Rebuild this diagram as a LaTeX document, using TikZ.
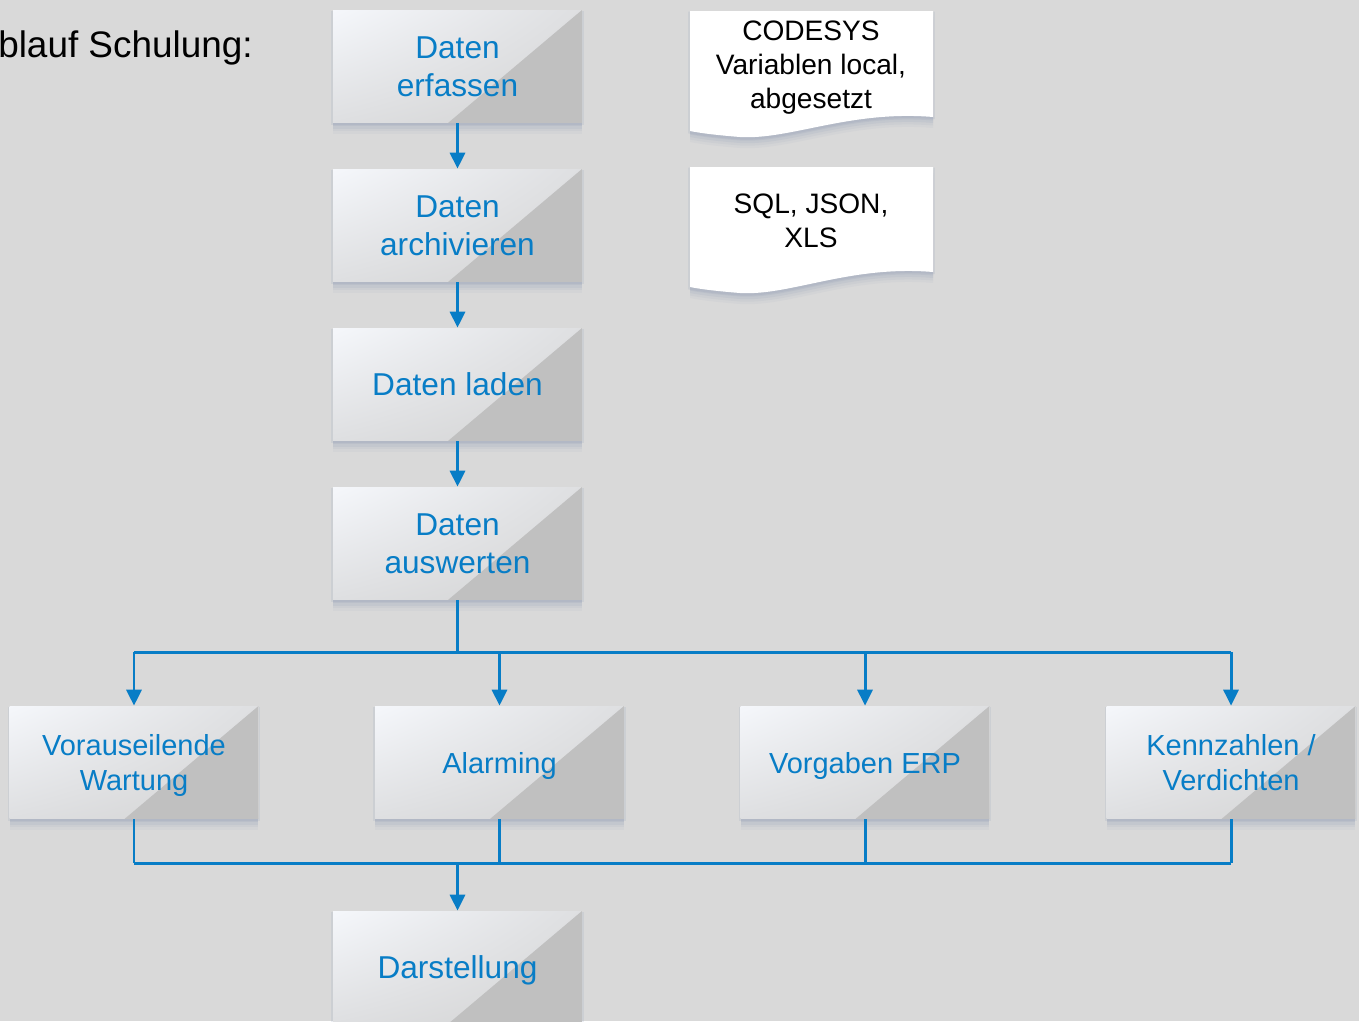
\documentclass[tikz,border=0pt]{standalone}
\usepackage{fontspec}
\setmainfont{Liberation Sans}
\usetikzlibrary{arrows.meta,shadows,shadings}

\definecolor{bgc}{RGB}{217,217,217}
\definecolor{flowblue}{RGB}{8,125,198}
\definecolor{boxhi}{RGB}{245,247,251}
\definecolor{boxmid}{RGB}{222,223,225}
\definecolor{boxlo}{RGB}{212,212,212}
\definecolor{boxtri}{RGB}{192,192,192}
\definecolor{shadowc}{RGB}{135,150,178}

\tikzset{
  softshadow/.style={
    drop shadow={shadow xshift=0mm, shadow yshift=-2.2mm, opacity=.07, fill=shadowc},
    drop shadow={shadow xshift=0mm, shadow yshift=-1.7mm, opacity=.09, fill=shadowc},
    drop shadow={shadow xshift=0mm, shadow yshift=-1.2mm, opacity=.12, fill=shadowc},
    drop shadow={shadow xshift=0mm, shadow yshift=-0.7mm, opacity=.15, fill=shadowc},
    drop shadow={shadow xshift=0mm, shadow yshift=-0.3mm, shadow scale=1.015, opacity=.15, fill=shadowc}},
  stepbox/.style={minimum width=4.98cm, minimum height=2.26cm, inner sep=0pt,
    align=center, text=flowblue, fill=boxmid, text depth=0pt, softshadow,
    path picture={
      \shade[upper left=boxhi, upper right=boxmid, lower left=boxmid, lower right=boxlo]
        (path picture bounding box.south west) rectangle (path picture bounding box.north east);
      \fill[boxtri] (path picture bounding box.north east) -- (path picture bounding box.south east)
        -- ([xshift=-2.68cm]path picture bounding box.south east) -- cycle;
    }},
  bigtext/.style={font=\fontsize{18}{22}\selectfont},
  smalltext/.style={font=\fontsize{16.5}{20}\selectfont},
  notetext/.style={align=center, text depth=0pt, font=\fontsize{16}{19.3}\selectfont},
  flow/.style={draw=flowblue, line width=1.7pt},
  flowarrow/.style={flow, -{Triangle[width=3mm,length=3.2mm]}}
}

\begin{document}
\begin{tikzpicture}[x=0.02cm,y=-0.02cm]
  \useasboundingbox (0,0) rectangle (1359,1021);
  \fill[bgc] (0,0) rectangle (1359,1021);

  % notes
  \fill[white, softshadow] (690,11) -- (933,11) -- (933,117)
    .. controls (850,110) and (790,140) .. (740,137) .. controls (715,135) and (700,133) .. (690,131) -- cycle;
  \fill[white, softshadow] (690,167) -- (933,167) -- (933,272)
    .. controls (850,265) and (790,296) .. (740,293) .. controls (715,291) and (700,289) .. (690,287) -- cycle;

  \node[notetext] (N1) at (811,65) {CODESYS\\Variablen local,\\abgesetzt};
  \node[notetext] (N2) at (811,221) {SQL, JSON,\\XLS};

  \node[anchor=base east, inner sep=0pt, font=\fontsize{21}{25}\selectfont] (T) at (253,57) {blauf Schulung:};

  % main column
  \node[stepbox, bigtext] (S1) at (457.5,66.5) {Daten\\erfassen};
  \node[stepbox, bigtext] (S2) at (457.5,225.5) {Daten\\archivieren};
  \node[stepbox, bigtext] (S3) at (457.5,384.5) {Daten laden};
  \node[stepbox, bigtext] (S4) at (457.5,543.5) {Daten\\auswerten};

  % bottom row
  \node[stepbox, smalltext] (B1) at (134,762.5) {Vorauseilende\\Wartung};
  \node[stepbox, smalltext] (B2) at (499.5,762.5) {Alarming};
  \node[stepbox, smalltext] (B3) at (865,762.5) {Vorgaben ERP};
  \node[stepbox, smalltext] (B4) at (1231,762.5) {Kennzahlen /\\Verdichten};

  \node[stepbox, bigtext] (SD) at (457.5,967.5) {Darstellung};

  \draw[flowarrow] (S1)--(S2);
  \draw[flowarrow] (S2)--(S3);
  \draw[flowarrow] (S3)--(S4);

  \draw[flow] (S4.south)--++(0,52) coordinate (J1);
  \draw[flow] (J1 -| B1)--(J1 -| B4);
  \draw[flowarrow] (J1 -| B1)--(B1);
  \draw[flowarrow] (J1 -| B2)--(B2);
  \draw[flowarrow] (J1 -| B3)--(B3);
  \draw[flowarrow] (J1 -| B4)--(B4);

  \draw[flow] (B1.south)--++(0,44) coordinate (J2);
  \draw[flow] (J2)--(J2 -| B4);
  \draw[flow] (B2.south)--(B2.south |- J2);
  \draw[flow] (B3.south)--(B3.south |- J2);
  \draw[flow] (B4.south)--(B4.south |- J2);
  \draw[flowarrow] (J2 -| SD)--(SD);
\end{tikzpicture}
\end{document}
